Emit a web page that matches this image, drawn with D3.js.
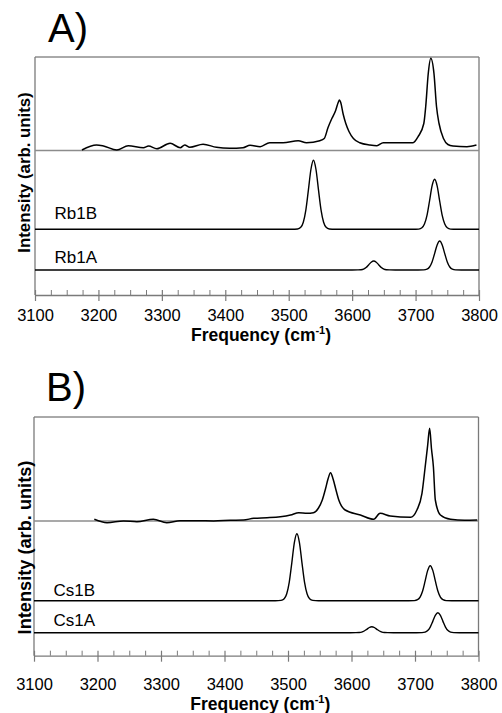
<!DOCTYPE html>
<html>
<head>
	<meta charset="utf-8">
	<title>IR spectra</title>
	<style type="text/css">
		html, body {
			margin: 0;
			padding: 0;
			background-color: #fff;
		}
		svg text {
			font-family: "Liberation Sans", Arial, sans-serif;
			fill: #000;
		}
	</style>
</head>
<body>
	<div id="chart"></div>
	<script src="https://cdn.jsdelivr.net/npm/d3@7/dist/d3.min.js"></script>
	<script type="text/javascript">
		// frequency axis (cm-1)
		const majorTicks = [3100, 3200, 3300, 3400, 3500, 3600, 3700, 3800];
		const minorTicks = [3125, 3150, 3175, 3225, 3250, 3275, 3325, 3350, 3375, 3425, 3450, 3475,
			3525, 3550, 3575, 3625, 3650, 3675, 3725, 3750, 3775];
		const panelTitles = ['A)', 'B)'];
		const traceNamesA = ['Rb1B', 'Rb1A'];
		const traceNamesB = ['Cs1B', 'Cs1A'];

		// experimental spectrum, panel A  [frequency, intensity]
		const expA = [[3174, 0.5], [3197, 5.5], [3208, 4.5], [3229, 0.5], [3247, 4.8], [3271, 2.8], [3279, 4.5],
			[3292, 1.8], [3313, 7.2], [3329, 2.8], [3336, 5.5], [3344, 3.2], [3365, 6.2], [3386, 3.2], [3407, 2.2],
			[3428, 2.8], [3439, 5.2], [3455, 3.8], [3470, 7.8], [3491, 7.8], [3515, 9.8], [3528, 7.8], [3549, 9.8],
			[3556, 12], [3562, 23], [3568, 32], [3574, 40], [3578, 48], [3580, 50.5], [3582, 48], [3586, 36],
			[3590, 27], [3595, 19], [3602, 12], [3612, 7.8], [3628, 5.5], [3639, 4.8], [3649, 7.8], [3681, 7.8],
			[3696, 7.8], [3704, 13.8], [3713, 27], [3716, 44], [3720, 77], [3724, 92.2], [3729, 77], [3733, 44],
			[3737, 27], [3744, 12], [3751, 6], [3759, 4.5], [3781, 3.8], [3796, 5.5]];

		// computed spectra, panel A
		const rb1B = [[3100, 0], [3505, 0], [3514, 0.3], [3519, 2.0], [3523, 7.1], [3527, 19.2], [3531, 39.1],
			[3535, 59.8], [3539, 69], [3543, 59.8], [3547, 39.1], [3551, 19.2], [3555, 7.1], [3559, 2.0], [3564, 0.3],
			[3573, 0], [3696, 0], [3705, 0.2], [3710, 1.5], [3714, 5.2], [3718, 13.9], [3722, 28.3], [3726, 43.4],
			[3730, 50], [3734, 43.4], [3738, 28.3], [3742, 13.9], [3746, 5.2], [3750, 1.5], [3755, 0.2], [3764, 0],
			[3800, 0]];
		const rb1A = [[3100, 0], [3600, 0], [3609, 0.1], [3614, 0.3], [3618, 0.9], [3622, 2.5], [3626, 5.1],
			[3630, 7.8], [3634, 9], [3638, 7.8], [3642, 5.1], [3646, 2.5], [3650, 0.9], [3654, 0.3], [3659, 0.1],
			[3668, 0], [3704, 0], [3713, 0.1], [3718, 0.8], [3722, 3.0], [3726, 8.1], [3730, 16.4], [3734, 25.1],
			[3738, 29], [3742, 25.1], [3746, 16.4], [3750, 8.1], [3754, 3.0], [3758, 0.8], [3763, 0.1], [3772, 0],
			[3800, 0]];

		// experimental spectrum, panel B
		const expB = [[3195, 1.7], [3215, -1.7], [3241, 0], [3262, -0.7], [3288, 1.7], [3309, -1.7], [3330, 0.3],
			[3357, 0.3], [3383, 0], [3409, 0.7], [3430, 1], [3446, 2.7], [3467, 3.3], [3488, 4.3], [3504, 6],
			[3517, 8.3], [3530, 7.7], [3540, 8.3], [3548, 13], [3554, 21], [3559, 32], [3563, 42], [3567, 48.3],
			[3571, 42], [3576, 30], [3580, 21], [3590, 11], [3614, 6], [3635, 1.7], [3645, 7.7], [3661, 5],
			[3693, 3.7], [3703, 11], [3711, 27.7], [3716, 54], [3720, 76], [3723, 92.7], [3726, 72], [3729, 54],
			[3732, 21], [3740, 6], [3756, 1.7], [3778, 0.8], [3798, 1]];

		// computed spectra, panel B
		const cs1B = [[3100, 0], [3480, 0], [3489, 0.3], [3494, 1.9], [3498, 6.9], [3502, 18.6], [3506, 37.9],
			[3510, 58.1], [3514, 67], [3518, 58.1], [3522, 37.9], [3526, 18.6], [3530, 6.9], [3534, 1.9], [3539, 0.3],
			[3548, 0], [3690, 0], [3699, 0.1], [3704, 1.0], [3708, 3.6], [3712, 9.7], [3716, 19.8], [3720, 30.3],
			[3724, 35], [3728, 30.3], [3732, 19.8], [3736, 9.7], [3740, 3.6], [3744, 1.0], [3749, 0.1], [3758, 0],
			[3800, 0]];
		const cs1A = [[3100, 0], [3598, 0], [3607, 0.05], [3612, 0.2], [3616, 0.6], [3620, 1.7], [3624, 3.4],
			[3628, 5.2], [3632, 6], [3636, 5.2], [3640, 3.4], [3644, 1.7], [3648, 0.6], [3652, 0.2], [3657, 0.05],
			[3666, 0], [3702, 0], [3711, 0.1], [3716, 0.6], [3720, 2.1], [3724, 5.6], [3728, 11.3], [3732, 17.3],
			[3736, 20], [3740, 17.3], [3744, 11.3], [3748, 5.6], [3752, 2.1], [3756, 0.6], [3761, 0.1], [3770, 0],
			[3800, 0]];

		const width = 502, height = 713;
		const frameColor = '#7a7a7a';
		const font = '"Liberation Sans", Arial, sans-serif';

		const panels = [
			{
				title: panelTitles[0], titleX: 48, titleY: 42,
				left: 35, right: 479, top: 57, axisY: 295,
				tickLabelY: 25.5, xTitleY: 340.5,
				yLabelX: 29.5, yLabelY: 172.5, yLabelSize: 16.8,
				exp: { data: expA, base: 144.5 },
				calc: [
					{ name: traceNamesA[0], data: rb1B, base: 65.7, labelUp: 10 },
					{ name: traceNamesA[1], data: rb1A, base: 25, labelUp: 6.7 }
				]
			},
			{
				title: panelTitles[1], titleX: 46, titleY: 401,
				left: 34, right: 478.5, top: 417, axisY: 655.7,
				tickLabelY: 34, xTitleY: 710,
				yLabelX: 30.5, yLabelY: 547.5, yLabelSize: 18.2,
				exp: { data: expB, base: 134.7 },
				calc: [
					{ name: traceNamesB[0], data: cs1B, base: 55, labelUp: 4.7 },
					{ name: traceNamesB[1], data: cs1A, base: 23, labelUp: 6.7 }
				]
			}
		];

		const svg = d3.select('#chart')
			.append('svg')
			.attr('width', width)
			.attr('height', height)
			.style('display', 'block');

		svg.append('rect')
			.attr('width', width)
			.attr('height', height)
			.attr('fill', '#fff');

		function drawPanel(p) {
			const g = svg.append('g');

			const x = d3.scaleLinear()
				.domain([3100, 3800])
				.range([p.left, p.right]);

			// 1 unit = 1 px above the frequency axis
			const y = d3.scaleLinear()
				.domain([0, p.axisY - p.top])
				.range([p.axisY, p.top]);

			const line = base => d3.line()
				.curve(d3.curveMonotoneX)
				.x(d => x(d[0]))
				.y(d => y(base + d[1]));

			// frame
			g.append('line')
				.attr('x1', p.left).attr('x2', p.right)
				.attr('y1', p.top).attr('y2', p.top)
				.attr('stroke', '#555').attr('stroke-width', 1);
			g.append('line')
				.attr('x1', p.left).attr('x2', p.left)
				.attr('y1', p.top).attr('y2', p.axisY)
				.attr('stroke', frameColor).attr('stroke-width', 1.3);
			g.append('line')
				.attr('x1', p.right).attr('x2', p.right)
				.attr('y1', p.top).attr('y2', p.axisY)
				.attr('stroke', frameColor).attr('stroke-width', 1.3);

			// grey baseline under the experimental trace
			g.append('line')
				.attr('x1', p.left).attr('x2', p.right)
				.attr('y1', y(p.exp.base)).attr('y2', y(p.exp.base))
				.attr('stroke', '#8c8c8c').attr('stroke-width', 1.3);

			// minor ticks (inside, upward)
			const minorAxis = d3.axisBottom(x)
				.tickValues(minorTicks)
				.tickSize(-5)
				.tickFormat('');
			g.append('g')
				.attr('transform', `translate(0,${p.axisY})`)
				.call(minorAxis)
				.call(a => a.select('.domain').remove())
				.call(a => a.selectAll('.tick line').attr('stroke', frameColor));

			// major ticks, crossing the axis
			const majorAxis = d3.axisBottom(x)
				.tickValues(majorTicks)
				.tickSize(5)
				.tickSizeOuter(0)
				.tickFormat(d3.format('d'));
			g.append('g')
				.attr('transform', `translate(0,${p.axisY})`)
				.call(majorAxis)
				.call(a => a.select('.domain').attr('stroke', frameColor).attr('stroke-width', 1.3))
				.call(a => a.selectAll('.tick line')
					.attr('y1', -5).attr('y2', 6)
					.attr('stroke', frameColor).attr('stroke-width', 1.2))
				.call(a => a.selectAll('.tick text')
					.attr('y', p.tickLabelY)
					.attr('dy', 0)
					.attr('font-size', 16.5)
					.attr('font-family', font)
					.attr('fill', '#000'));

			// computed spectra
			p.calc.forEach(t => {
				g.append('path')
					.attr('d', line(t.base)(t.data))
					.attr('fill', 'none')
					.attr('stroke', '#000')
					.attr('stroke-width', 1.4);
				g.append('text')
					.attr('x', p.left + 19.5)
					.attr('y', y(t.base) - t.labelUp)
					.attr('font-size', 17)
					.text(t.name);
			});

			// experimental spectrum
			g.append('path')
				.attr('d', line(p.exp.base)(p.exp.data))
				.attr('fill', 'none')
				.attr('stroke', '#000')
				.attr('stroke-width', 1.5)
				.attr('stroke-linejoin', 'round');

			// panel title
			g.append('text')
				.attr('x', p.titleX)
				.attr('y', p.titleY)
				.attr('font-size', 40)
				.text(p.title);

			// y label
			g.append('text')
				.attr('transform', `translate(${p.yLabelX},${p.yLabelY}) rotate(-90)`)
				.attr('text-anchor', 'middle')
				.attr('font-size', p.yLabelSize)
				.attr('font-weight', 'bold')
				.text('Intensity (arb. units)');

			// x title
			const xt = g.append('text')
				.attr('x', (p.left + p.right) / 2 + 4)
				.attr('y', p.xTitleY)
				.attr('text-anchor', 'middle')
				.attr('font-size', 17.5)
				.attr('font-weight', 'bold');
			xt.append('tspan').text('Frequency (cm');
			xt.append('tspan')
				.attr('font-size', 11)
				.attr('dy', -7)
				.text('-1');
			xt.append('tspan')
				.attr('dy', 7)
				.text(')');
		}

		panels.forEach(drawPanel);
	</script>
</body>
</html>
